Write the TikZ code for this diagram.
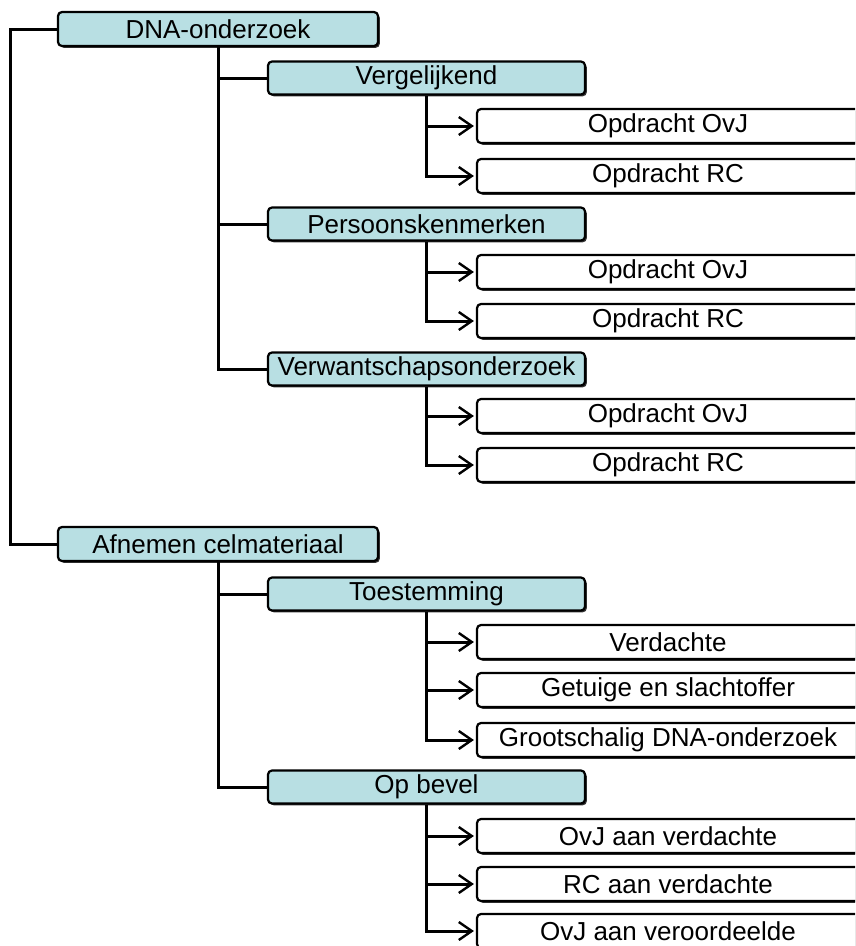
\documentclass[tikz,border=0pt]{standalone}
\usepackage{fontspec}
\setmainfont{Liberation Sans}
\usetikzlibrary{arrows.meta,shadows}
\definecolor{boxteal}{HTML}{B8DFE3}

\begin{document}
\begin{tikzpicture}[
        x=1pt, y=-1pt,
        font=\fontsize{26}{30}\selectfont,
        box/.style={rectangle, rounded corners=4pt, draw=black, line width=2.2pt,
          inner sep=0pt, drop shadow={shadow xshift=1.8pt, shadow yshift=-1.8pt, fill=black!80, opacity=1}},
        top/.style={box, fill=boxteal, minimum width=320pt, minimum height=34pt},
        mid/.style={box, fill=boxteal, minimum width=317pt, minimum height=33pt},
        leaf/.style={box, fill=white, minimum width=382pt, minimum height=34pt},
        link/.style={line width=3pt},
        arr/.style={link, -{Straight Barb[length=13pt,width=18pt,line width=2.4pt]}}]

      \clip (0,0) rectangle (855,946);
      \useasboundingbox (0,0) rectangle (855,946);

      \node[top] (dna) at (218,29) {DNA-onderzoek};
      \node[top] (afn) at (218,544) {Afnemen celmateriaal};

      \node[mid] (verg) at (426.5,78) {Vergelijkend};
      \node[mid] (pers) at (426.5,224) {Persoonskenmerken};
      \node[mid] (verw) at (426.5,369) {Verwantschapsonderzoek};
      \node[mid] (toest) at (426.5,594) {Toestemming};
      \node[mid] (bevel) at (426.5,787) {Op bevel};

      \node[leaf] (v1) at (668,126) {Opdracht OvJ};
      \node[leaf] (v2) at (668,176) {Opdracht RC};
      \node[leaf] (p1) at (668,272) {Opdracht OvJ};
      \node[leaf] (p2) at (668,321) {Opdracht RC};
      \node[leaf] (w1) at (668,416) {Opdracht OvJ};
      \node[leaf] (w2) at (668,465) {Opdracht RC};

      \node[leaf] (t1) at (668,642) {Verdachte};
      \node[leaf] (t2) at (668,690) {Getuige en slachtoffer};
      \node[leaf] (t3) at (668,740) {Grootschalig DNA-onderzoek};
      \node[leaf] (b1) at (668,836) {OvJ aan verdachte};
      \node[leaf] (b2) at (668,884) {RC aan verdachte};
      \node[leaf] (b3) at (668,931) {OvJ aan veroordeelde};

      \draw[link] (dna.west) -- ++(-46,0) |- (afn.west);

      \foreach \t in {verg, pers, verw}
        \draw[link] (dna.south) |- (\t.west);
      \foreach \t in {toest, bevel}
        \draw[link] (afn.south) |- (\t.west);

      \foreach \b/\t in {verg/v1, verg/v2, pers/p1, pers/p2, verw/w1, verw/w2}
        \draw[arr] (\b.south) |- ([xshift=-2pt]\t.west);
      \foreach \b/\t in {toest/t1, toest/t2, toest/t3, bevel/b1, bevel/b2, bevel/b3}
        \draw[arr] (\b.south) |- ([xshift=-2pt]\t.west);

    \end{tikzpicture}
\end{document}
